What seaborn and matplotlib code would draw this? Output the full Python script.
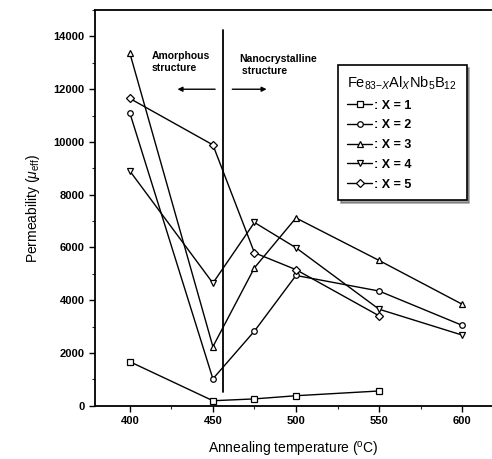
import matplotlib
matplotlib.use("Agg")
import matplotlib.pyplot as plt
from matplotlib.ticker import MultipleLocator
import seaborn as sns
import pandas as pd

sns.set_theme(style="ticks")
plt.rcParams['font.family'] = ['Liberation Sans', 'DejaVu Sans']
plt.rcParams['text.color'] = 'black'
plt.rcParams['axes.labelcolor'] = 'black'
plt.rcParams['mathtext.fontset'] = 'custom'
plt.rcParams['mathtext.rm'] = 'Liberation Sans'
plt.rcParams['mathtext.it'] = 'Liberation Sans:italic'

# data
temps_x1 = [400, 450, 475, 500, 550]
perm_x1 = [1670, 190, 260, 380, 560]
temps_x2 = [400, 450, 475, 500, 550, 600]
perm_x2 = [11100, 1020, 2830, 4940, 4350, 3050]
temps_x3 = [400, 450, 475, 500, 550, 600]
perm_x3 = [13370, 2240, 5230, 7120, 5510, 3850]
temps_x4 = [400, 450, 475, 500, 550, 600]
perm_x4 = [8900, 4650, 6950, 5990, 3660, 2680]
temps_x5 = [400, 450, 475, 500, 550]
perm_x5 = [11650, 9890, 5800, 5160, 3410]

series_names = [": X = 1", ": X = 2", ": X = 3", ": X = 4", ": X = 5"]
series_markers = ["s", "o", "^", "v", "D"]

frames = []
for name, t, p in zip(series_names,
                      [temps_x1, temps_x2, temps_x3, temps_x4, temps_x5],
                      [perm_x1, perm_x2, perm_x3, perm_x4, perm_x5]):
    frames.append(pd.DataFrame({"temp": t, "perm": p, "series": name}))
df = pd.concat(frames, ignore_index=True)

fig = plt.figure(figsize=(4.92, 4.59), dpi=100)
ax = fig.add_axes([0.193, 0.116, 0.807, 0.862])

sns.lineplot(data=df, x="temp", y="perm", style="series",
             markers=dict(zip(series_names, series_markers)), dashes=False,
             color="black", linewidth=1.0, markersize=4,
             markerfacecolor="white", markeredgecolor="black",
             markeredgewidth=0.9, ax=ax, sort=False)

ax.set_xlim(379, 618)
ax.set_ylim(0, 15000)
ax.xaxis.set_major_locator(MultipleLocator(50))
ax.xaxis.set_minor_locator(MultipleLocator(25))
ax.yaxis.set_major_locator(MultipleLocator(2000))
ax.yaxis.set_minor_locator(MultipleLocator(1000))
ax.set_xticks([400, 450, 500, 550, 600])
ax.tick_params(axis="both", which="major", direction="out", length=4,
               width=1, labelsize=8, colors="black")
ax.tick_params(axis="both", which="minor", direction="out", length=2.5, width=0.8)
for lab in ax.get_xticklabels() + ax.get_yticklabels():
    lab.set_fontweight("bold")

for side in ["left", "bottom", "top"]:
    ax.spines[side].set_color("black")
    ax.spines[side].set_linewidth(1.3)
ax.spines["right"].set_visible(False)

ax.set_xlabel("Annealing temperature ($^{\\mathrm{o}}$C)", fontsize=10, labelpad=10)
ax.set_ylabel("Permeability ($\\mu_{\\mathrm{eff}}$)", fontsize=10, labelpad=8)

# boundary between structures
ax.plot([456, 456], [540, 14250], color="black", linewidth=1.3)
ax.text(413, 13450, "Amorphous\nstructure", fontsize=7.5, fontweight="bold",
        ha="left", va="top", linespacing=1.3)
ax.text(466, 13350, "Nanocrystalline\n structure", fontsize=7.5, fontweight="bold",
        ha="left", va="top", linespacing=1.3)
ax.annotate("", xy=(427, 12000), xytext=(453, 12000),
            arrowprops=dict(arrowstyle="-|>", color="black", lw=1, mutation_scale=7))
ax.annotate("", xy=(484, 12000), xytext=(460, 12000),
            arrowprops=dict(arrowstyle="-|>", color="black", lw=1, mutation_scale=7))

handles, labels = ax.get_legend_handles_labels()
leg = ax.legend(handles, labels,
                title="Fe$_{83\\mathrm{-}X}$Al$_X$Nb$_5$B$_{12}$",
                loc="upper left", bbox_to_anchor=(0.612, 0.861), borderaxespad=0,
                frameon=True, fancybox=False, shadow=True, edgecolor="black",
                fontsize=9, title_fontsize=10.5, handlelength=2.0,
                handletextpad=0.1, borderpad=0.75, labelspacing=0.62)
leg.get_frame().set_linewidth(1.2)
leg._legend_box.align = "left"
for t in leg.get_texts():
    t.set_fontweight("bold")

fig.savefig("out.png", dpi=100)
